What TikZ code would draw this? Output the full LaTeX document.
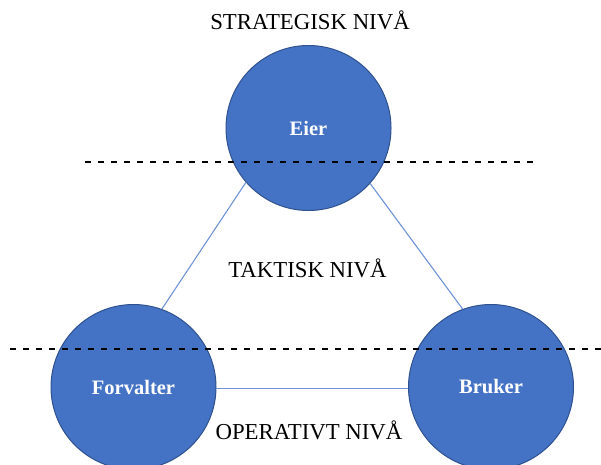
\documentclass[tikz,border=0pt]{standalone}
\usepackage{fontspec}
\setmainfont{Liberation Serif}
\definecolor{roleblue}{HTML}{4472C4}
\definecolor{roleedge}{HTML}{2F528F}
\definecolor{linkblue}{HTML}{6F93D6}
\begin{document}
\begin{tikzpicture}[x=1pt,y=-1pt,
  role/.style={circle, fill=roleblue, draw=roleedge, line width=1pt,
    minimum size=165pt, inner sep=0pt, text=white,
    font=\fontsize{20.5}{24}\selectfont\bfseries},
  level/.style={font=\fontsize{22.8}{26}\selectfont, inner sep=0pt},
  link/.style={draw=linkblue, line width=1.1pt},
  divider/.style={draw=black, line width=1.6pt, dash pattern=on 6pt off 7pt}]
  \useasboundingbox (0,0) rectangle (601,464);

  % roles
  \node[role] (eier) at (308.5,128) {Eier};
  \node[role] (forv) at (133.5,387) {Forvalter};
  \node[role] (bruk) at (491,387) {Bruker};

  % links between roles
  \draw[link] (eier.221) -- (forv.70);
  \draw[link] (eier.-42) -- (bruk.110);
  \draw[link] (forv.-1.5) -- (bruk.181.5);

  % level boundaries
  \coordinate (d1a) at (85,162);
  \coordinate (d1b) at (535,162);
  \coordinate (d2a) at (10,349);
  \coordinate (d2b) at (601,349);
  \draw[divider] (d1a) -- (d1b);
  \draw[divider] (d2a) -- (d2b);

  % level labels
  \node[level] (strat) at (310,20) {STRATEGISK NIVÅ};
  \node[level] (takt) at (307.5,268) {TAKTISK NIVÅ};
  \node[level] (oper) at (309,430) {OPERATIVT NIVÅ};
\end{tikzpicture}
\end{document}
